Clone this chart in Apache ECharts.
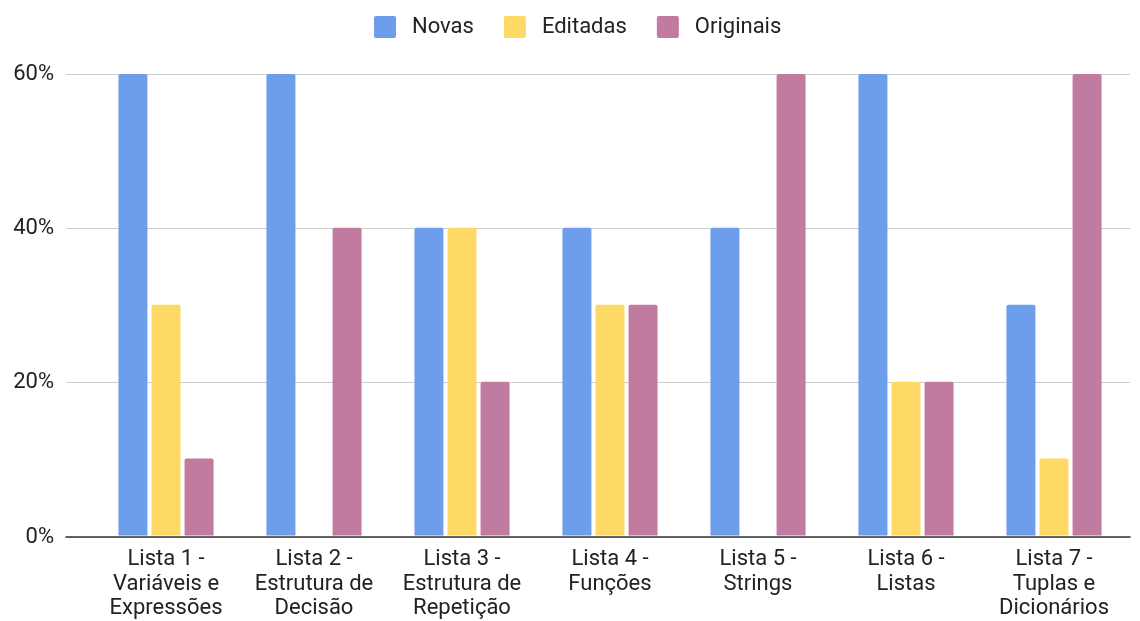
<!DOCTYPE html>
<html>
<head>
<meta charset="utf-8">
<script src="https://cdn.jsdelivr.net/npm/echarts@6/dist/echarts.min.js"></script>
<style>html,body{margin:0;padding:0;background:#fff}#c{width:1140px;height:621px}</style>
</head>
<body>
<div id="c"></div>
<script>
const categories = [
  "Lista 1 -\nVariáveis e\nExpressões",
  "Lista 2 -\nEstrutura de\nDecisão",
  "Lista 3 -\nEstrutura de\nRepetição",
  "Lista 4 -\nFunções",
  "Lista 5 -\nStrings",
  "Lista 6 -\nListas",
  "Lista 7 -\nTuplas e\nDicionários"
];
const novas = [0.6, 0.6, 0.4, 0.4, 0.4, 0.6, 0.3];
const editadas = [0.3, 0, 0.4, 0.3, 0, 0.2, 0.1];
const originais = [0.1, 0.4, 0.2, 0.3, 0.6, 0.2, 0.6];
const yTicks = [0, 0.2, 0.4, 0.6];

const font = "Roboto, 'Liberation Sans', sans-serif";
const chart = echarts.init(document.getElementById('c'), null, {renderer: 'canvas'});
const barStyle = (c) => ({color: c, borderRadius: [2, 2, 0, 0]});
const sq = 'path://M2,0 H20 A2,2 0 0 1 22,2 V20 A2,2 0 0 1 20,22 H2 A2,2 0 0 1 0,20 V2 A2,2 0 0 1 2,0 Z';
chart.setOption({
  animation: false,
  textStyle: {fontFamily: font},
  legend: {
    top: 11, left: 369,
    itemWidth: 22, itemHeight: 22, itemGap: 30,
    textStyle: {fontSize: 22, color: '#222', fontFamily: font, padding: [0, 0, 0, 11]},
    data: [{name: 'Novas', icon: sq}, {name: 'Editadas', icon: sq}, {name: 'Originais', icon: sq}]
  },
  grid: [
    {left: 66, right: 10, top: 74, bottom: 84},
    {left: 92, right: 12, top: 74, bottom: 84}
  ],
  xAxis: [
    {gridIndex: 0, type: 'category', data: categories, axisLabel: {show: false}, axisTick: {show: false},
     axisLine: {show: true, lineStyle: {color: '#333', width: 1.5}}},
    {gridIndex: 1, type: 'category', data: categories, axisTick: {show: false}, axisLine: {show: false},
     axisLabel: {fontSize: 22, color: '#222', lineHeight: 24.5, margin: 12, interval: 0, fontFamily: font}}
  ],
  yAxis: [
    {gridIndex: 0, type: 'value', min: 0, max: 0.6, interval: 0.2,
     axisLabel: {fontSize: 22, color: '#222', margin: 12, fontFamily: font,
       formatter: v => yTicks.includes(Math.round(v*10)/10) ? Math.round(v*100) + '%' : ''},
     splitLine: {lineStyle: {color: '#ccc', width: 1}}, axisLine: {show: false}, axisTick: {show: false}},
    {gridIndex: 1, type: 'value', min: 0, max: 0.6, interval: 0.2, show: false, splitLine: {show: false}}
  ],
  series: [
    {name: 'Novas', type: 'bar', xAxisIndex: 1, yAxisIndex: 1, data: novas, barWidth: 29, barGap: '14%', itemStyle: barStyle('#6d9eeb')},
    {name: 'Editadas', type: 'bar', xAxisIndex: 1, yAxisIndex: 1, data: editadas, barWidth: 29, barGap: '14%', itemStyle: barStyle('#ffd966')},
    {name: 'Originais', type: 'bar', xAxisIndex: 1, yAxisIndex: 1, data: originais, barWidth: 29, barGap: '14%', itemStyle: barStyle('#c27ba0')}
  ]
});
</script>
</body>
</html>
